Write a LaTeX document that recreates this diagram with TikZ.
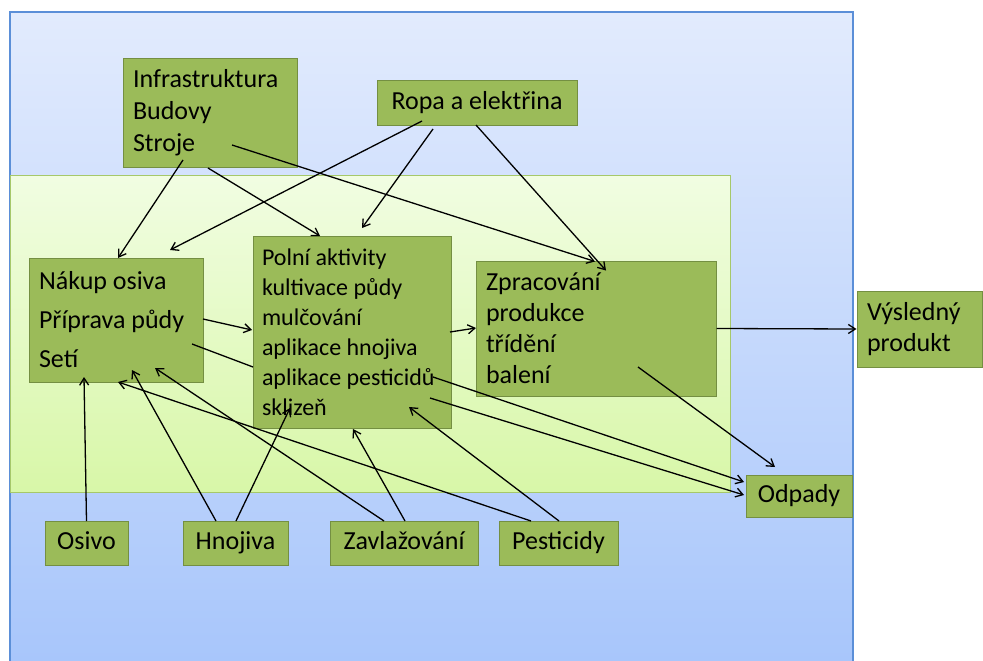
\documentclass[tikz,border=0pt]{standalone}
\usepackage{fontspec}
\setmainfont{Carlito}
\usepackage{xcolor}
\usepackage{tikz}
\usetikzlibrary{arrows.meta,positioning,calc}

\definecolor{boxfill}{HTML}{9BBB59}
\definecolor{boxline}{HTML}{748F42}
\definecolor{blueTop}{HTML}{E2EBFD}
\definecolor{blueBottom}{HTML}{A8C6FB}
\definecolor{blueLine}{HTML}{5B8FD8}
\definecolor{greenTop}{HTML}{F1FDE2}
\definecolor{greenBottom}{HTML}{D8F7A8}
\definecolor{greenLine}{HTML}{A6C86A}

\begin{document}
\begin{tikzpicture}[x=1pt, y=-1pt, >={Straight Barb[length=7pt,width=9pt]}, line width=1.3pt,
    box/.style={draw=boxline, line width=1pt, fill=boxfill, inner sep=0pt,
        font=\fontsize{26}{32}\selectfont},
    tagbox/.style={box, text height=18pt, text depth=5pt},
    listbox/.style={box, align=flush left, inner xsep=10pt}]

        \useasboundingbox (0,0) rectangle (983,661);

        % Background
        \shade[top color=blueTop, bottom color=blueBottom] (10,12) rectangle (853,661);
        \draw[blueLine, line width=1.5pt] (10,661) -- (10,12) -- (853,12) -- (853,661);
        \shade[top color=greenTop, bottom color=greenBottom] (10,175) rectangle (730,492);
        \draw[greenLine, line width=1pt] (10,175) rectangle (730,492);

        % Nodes
        \node[listbox, text width=154pt, minimum height=108pt] (infra) at (210,113) {Infrastruktura\\Budovy\\Stroje};
        \node[tagbox, minimum width=200pt, minimum height=44pt] (ropa) at (477,103) {Ropa a elektřina};
        \node[listbox, text width=154pt, minimum height=124pt, font=\fontsize{26}{39}\selectfont] (nakup) at (116,320) {Nákup osiva\\Příprava půdy\\Setí};
        \node[listbox, text width=180pt, inner xsep=9pt, minimum height=192pt, font=\fontsize{24}{30}\selectfont] (polni) at (352,332) {Polní aktivity\\kultivace půdy\\mulčování\\aplikace hnojiva\\aplikace pesticidů\\sklizeň};
        \node[listbox, text width=220pt, minimum height=135pt, font=\fontsize{26}{31}\selectfont] (zprac) at (596,328.5) {Zpracování\\produkce\\třídění\\balení};
        \node[listbox, text width=105pt, minimum height=76pt, font=\fontsize{26}{31}\selectfont] (vysl) at (919.5,329) {Výsledný\\produkt};
        \node[tagbox, minimum width=106pt, minimum height=42pt] (odpady) at (799,496) {Odpady};
        \node[tagbox, minimum width=83pt, minimum height=44pt] (osivo) at (86.5,543) {Osivo};
        \node[tagbox, minimum width=105pt, minimum height=44pt] (hnojiva) at (235.5,543) {Hnojiva};
        \node[tagbox, minimum width=148pt, minimum height=44pt] (zavl) at (404,543) {Zavlažování};
        \node[tagbox, minimum width=119pt, minimum height=44pt] (pest) at (558.5,543) {Pesticidy};

        % Arrows from above
        \draw[->] ([shift={(-27,47)}]infra.center) -- ([shift={(2,-62)}]nakup.center);
        \draw[->] ([shift={(-2,55)}]infra.center) -- ([shift={(-32,-96)}]polni.center);
        \draw[->] ([shift={(22,32)}]infra.center) -- ([shift={(-1,-67)}]zprac.center);
        \draw[->] ([shift={(-55,18)}]ropa.center) -- ([shift={(54,-70)}]nakup.center);
        \draw[->] ([shift={(-44,26)}]ropa.center) -- ([shift={(10,-104)}]polni.center);
        \draw[->] ([shift={(-1,22)}]ropa.center) -- ([shift={(10,-58)}]zprac.center);

        % Arrows along the chain
        \draw[->] ([shift={(87,-1)}]nakup.center) -- ([shift={(-100,-2)}]polni.center);
        \draw ([shift={(76,24)}]nakup.center) -- ([shift={(-99,35)}]polni.center);
        \draw[->] ([shift={(98,0)}]polni.center) -- ([shift={(-120,-0.5)}]zprac.center);
        \draw[->] (zprac.east) -- (vysl.west);
        \draw[->] ([shift={(42,38.5)}]zprac.center) -- ([shift={(-24,-29)}]odpady.center);
        \draw[->] ([shift={(81,45)}]polni.center) -- ([shift={(-55,-14)}]odpady.center);
        \draw[->] ([shift={(78,66)}]polni.center) -- ([shift={(-55,-1)}]odpady.center);

        % Arrows from below
        \draw[->] ([shift={(0,-22)}]osivo.center) -- ([shift={(-32,57)}]nakup.center);
        \draw[->] ([shift={(-19.5,-22)}]hnojiva.center) -- ([shift={(16,50)}]nakup.center);
        \draw[->] ([shift={(0.5,-22)}]hnojiva.center) -- ([shift={(-62,76)}]polni.center);
        \draw[->] ([shift={(-20,-22)}]zavl.center) -- ([shift={(39,48)}]nakup.center);
        \draw[->] ([shift={(1,-22)}]zavl.center) -- ([shift={(1,97)}]polni.center);
        \draw[->] ([shift={(-27.5,-22)}]pest.center) -- ([shift={(2,62)}]nakup.center);
        \draw[->] ([shift={(0.5,-22)}]pest.center) -- ([shift={(57,75)}]polni.center);

    \end{tikzpicture}
\end{document}
